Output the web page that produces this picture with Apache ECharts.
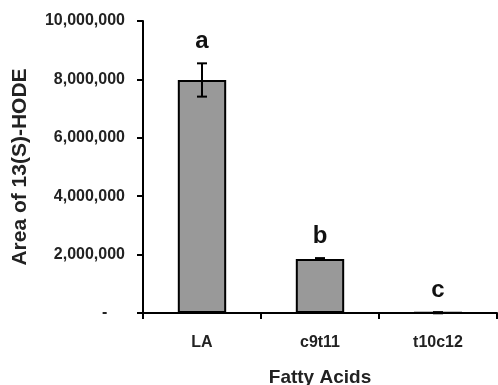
<!DOCTYPE html>
<html>
<head>
<meta charset="utf-8">
<script src="https://cdn.jsdelivr.net/npm/echarts@6/dist/echarts.min.js"></script>
<style>
  html, body { margin: 0; padding: 0; background: #fff; }
  #chart { width: 498px; height: 385px; }
</style>
</head>
<body>
<div id="chart"></div>
<script>
const categories = ['LA', 'c9t11', 't10c12'];
const values = [7980000, 1850000, 10000];
const errors = [570000, 30000, 20000];
const letters = ['a', 'b', 'c'];
const yTicks = { min: 0, max: 10000000, interval: 2000000 };

const font = '"Liberation Sans", Arial, sans-serif';
const chart = echarts.init(document.getElementById('chart'));

const option = {
  animation: false,
  backgroundColor: '#fff',
  grid: { left: 143, right: 1, top: 21, bottom: 72, outerBoundsMode: 'none', containLabel: false },
  xAxis: {
    type: 'category',
    data: categories,
    name: 'Fatty Acids',
    nameLocation: 'middle',
    nameGap: 55,
    nameTextStyle: { fontFamily: font, fontWeight: 'bold', fontSize: 19, color: '#222' },
    axisLine: { lineStyle: { color: '#000', width: 2 } },
    axisTick: { show: true, length: 6, lineStyle: { color: '#000', width: 2 } },
    axisLabel: { margin: 22, fontFamily: font, fontWeight: 'bold', fontSize: 16, color: '#222' }
  },
  yAxis: {
    type: 'value',
    min: yTicks.min,
    max: yTicks.max,
    interval: yTicks.interval,
    name: 'Area of 13(S)-HODE',
    nameLocation: 'middle',
    nameGap: 112,
    nameTextStyle: { fontFamily: font, fontWeight: 'bold', fontSize: 21, color: '#222' },
    axisLine: { show: true, lineStyle: { color: '#000', width: 2 } },
    axisTick: { show: true, length: 6, lineStyle: { color: '#000', width: 2 } },
    splitLine: { show: false },
    axisLabel: {
      margin: 18,
      fontFamily: font,
      fontWeight: 'bold',
      fontSize: 16,
      color: '#222',
      formatter: (v) => v === 0 ? '-    ' : v.toLocaleString('en-US')
    }
  },
  series: [
    {
      type: 'bar',
      data: values,
      barWidth: '41%',
      itemStyle: { color: '#999999', borderColor: '#000', borderWidth: 2 }
    },
    {
      type: 'custom',
      data: values.map((v, i) => [i, v, errors[i]]),
      z: 10,
      renderItem: (params, api) => {
        const i = api.value(0);
        const v = api.value(1);
        const e = api.value(2);
        const top = api.coord([i, v + e]);
        const bot = api.coord([i, v - e]);
        const cap = 5;
        const style = { stroke: '#000', lineWidth: 2 };
        return {
          type: 'group',
          children: [
            { type: 'line', shape: { x1: top[0], y1: top[1], x2: bot[0], y2: bot[1] }, style },
            { type: 'line', shape: { x1: top[0] - cap, y1: top[1], x2: top[0] + cap, y2: top[1] }, style },
            { type: 'line', shape: { x1: bot[0] - cap, y1: bot[1], x2: bot[0] + cap, y2: bot[1] }, style },
            {
              type: 'text',
              x: top[0],
              y: top[1] - 10,
              style: {
                text: letters[params.dataIndex],
                fontFamily: font,
                fontWeight: 'bold',
                fontSize: 24,
                fill: '#111',
                align: 'center',
                verticalAlign: 'bottom'
              }
            }
          ]
        };
      }
    }
  ]
};

chart.setOption(option);
</script>
</body>
</html>
